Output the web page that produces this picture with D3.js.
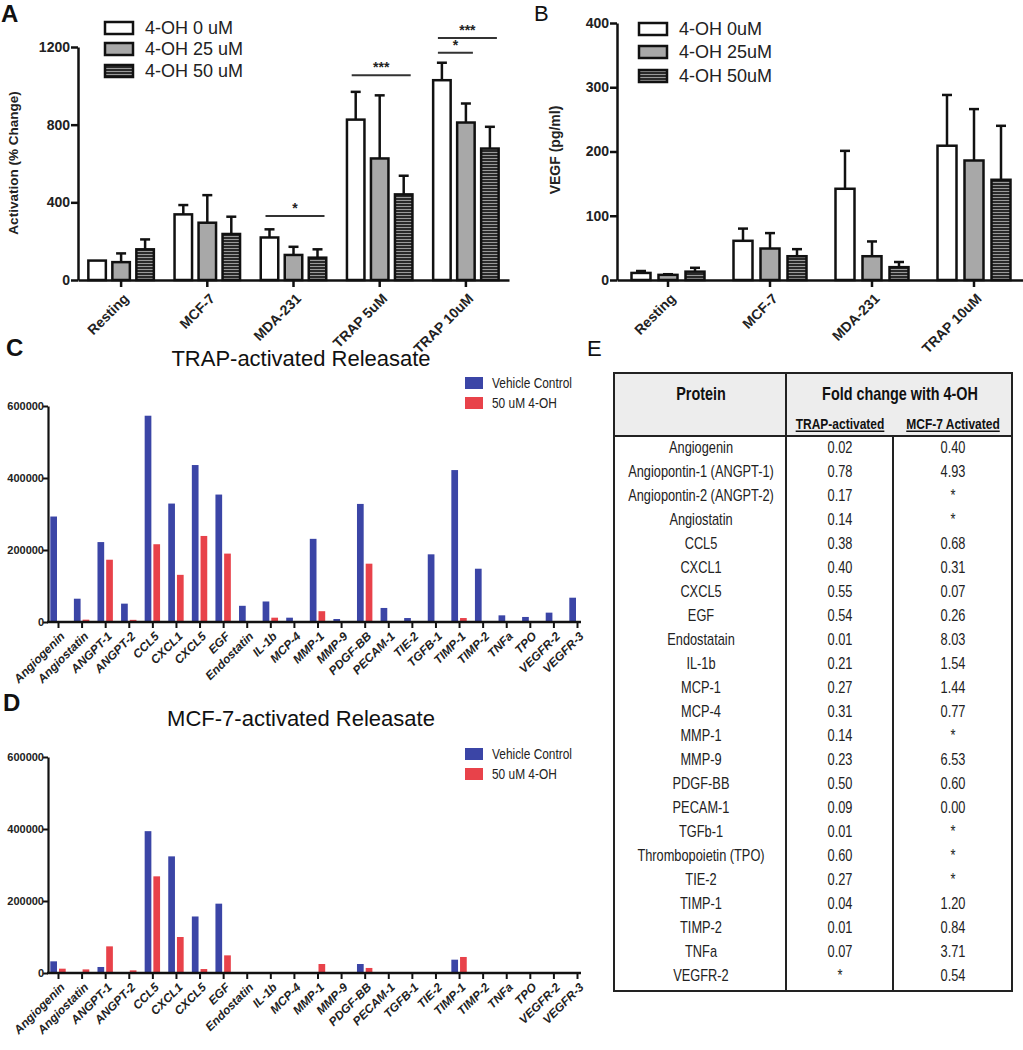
<!DOCTYPE html>
<html><head><meta charset="utf-8">
<script src="https://cdn.jsdelivr.net/npm/d3@7"></script>
<style>
body{margin:0;background:#fff}
svg{display:block}
svg text{font-family:"Liberation Sans",Arial,sans-serif}
</style>
</head><body>
<svg id="chart" width="1023" height="1050"></svg>
<script>
// ---------------- DATA ----------------
// Panel A
const groupsA = ["Resting", "MCF-7", "MDA-231", "TRAP 5uM", "TRAP 10uM"];
const seriesA = ["4-OH 0 uM", "4-OH 25 uM", "4-OH 50 uM"];
const meanA0  = [100, 338, 219, 826, 1029];
const meanA25 = [92, 295, 129, 626, 811];
const meanA50 = [158, 237, 115, 441, 677];
const upperA0  = [100, 386, 261, 969, 1119];
const upperA25 = [137, 437, 171, 951, 909];
const upperA50 = [209, 326, 158, 537, 789];
const sigGroupA = ["MDA-231", "TRAP 5uM", "TRAP 10uM", "TRAP 10uM"];
const sigFromA  = [0, 0, 0, 0];
const sigToA    = [2, 2, 1, 2];
const sigLevelA = [329, 1054, 1171, 1246];
const sigTextA  = ["*", "***", "*", "***"];
const ticksA = [0, 400, 800, 1200];

// Panel B
const groupsB = ["Resting", "MCF-7", "MDA-231", "TRAP 10uM"];
const seriesB = ["4-OH 0uM", "4-OH 25uM", "4-OH 50uM"];
const meanB0  = [11, 61, 142, 209];
const meanB25 = [8, 49, 37, 186];
const meanB50 = [13, 37, 20, 156];
const upperB0  = [14, 80, 201, 288];
const upperB25 = [9, 73, 60, 266];
const upperB50 = [19, 48, 28, 240];
const ticksB = [0, 100, 200, 300, 400];

// Panel C
const catsC = ["Angiogenin","Angiostatin","ANGPT-1","ANGPT-2","CCL5","CXCL1","CXCL5","EGF","Endostatin","IL-1b","MCP-4","MMP-1","MMP-9","PDGF-BB","PECAM-1","TIE-2","TGFB-1","TIMP-1","TIMP-2","TNFa","TPO","VEGFR-2","VEGFR-3"];
const vehicleC = [293000, 64700, 222000, 51000, 573000, 329000, 436000, 354000, 45000, 57000, 12000, 231000, 8300, 328000, 39000, 11000, 188000, 422000, 148000, 18500, 14000, 26000, 67500];
const ohC      = [0, 6500, 173000, 6000, 216000, 131000, 239000, 190000, 0, 12000, 0, 30000, 0, 162000, 0, 0, 0, 11000, 0, 0, 0, 0, 0];

// Panel D
const catsD = ["Angiogenin","Angiostatin","ANGPT-1","ANGPT-2","CCL5","CXCL1","CXCL5","EGF","Endostatin","IL-1b","MCP-4","MMP-1","MMP-9","PDGF-BB","PECAM-1","TGFB-1","TIE-2","TIMP-1","TIMP-2","TNFa","TPO","VEGFR-2","VEGFR-3"];
const vehicleD = [32400, 0, 16700, 0, 394000, 324000, 157000, 192600, 0, 0, 0, 0, 0, 25000, 0, 0, 0, 37000, 0, 0, 0, 0, 0];
const ohD      = [12000, 10000, 74000, 7400, 268500, 100000, 11000, 49000, 2000, 0, 0, 25000, 0, 14000, 0, 0, 0, 44500, 0, 0, 0, 0, 0];
const ticksCD = [0, 200000, 400000, 600000];
const seriesCD = ["Vehicle Control", "50 uM 4-OH"];

// Panel E (table)
const proteinsE = ["Angiogenin","Angiopontin-1 (ANGPT-1)","Angiopontin-2 (ANGPT-2)","Angiostatin","CCL5","CXCL1","CXCL5","EGF","Endostatain","IL-1b","MCP-1","MCP-4","MMP-1","MMP-9","PDGF-BB","PECAM-1","TGFb-1","Thrombopoietin (TPO)","TIE-2","TIMP-1","TIMP-2","TNFa","VEGFR-2"];
const trapFoldE = ["0.02","0.78","0.17","0.14","0.38","0.40","0.55","0.54","0.01","0.21","0.27","0.31","0.14","0.23","0.50","0.09","0.01","0.60","0.27","0.04","0.01","0.07","*"];
const mcfFoldE  = ["0.40","4.93","*","*","0.68","0.31","0.07","0.26","8.03","1.54","1.44","0.77","*","6.53","0.60","0.00","*","*","*","1.20","0.84","3.71","0.54"];

// ---------------- DRAW ----------------
const svg = d3.select("#chart");
const defs = svg.append("defs");
const pat = defs.append("pattern").attr("id","hatch").attr("patternUnits","userSpaceOnUse")
  .attr("width",6).attr("height",3);
pat.append("rect").attr("width",6).attr("height",3).attr("fill","#2a2a2a");
pat.append("rect").attr("y",2).attr("width",6).attr("height",1).attr("fill","#9a9a9a");
const fillsAB = ["#ffffff", "#a8a8a8", "url(#hatch)"];

function groupedPanel(cfg) {
  const g = svg.append("g");
  const x = d3.scaleBand().domain(cfg.groups).range(cfg.xr);
  const s = d3.scaleBand().domain(cfg.series).range([-cfg.half, cfg.half]);
  const y = d3.scaleLinear().domain(cfg.yd).range(cfg.yr);
  const cx = (gi, si) => x(gi) + x.bandwidth()/2 + s(si) + s.bandwidth()/2;
  cfg.series.forEach((ser, k) => {
    const rows = cfg.groups.map((gr, i) => ({g: gr, m: cfg.means[k][i], u: cfg.uppers[k][i]}));
    g.selectAll(null).data(rows).join("line")
      .attr("x1", d => cx(d.g, ser)).attr("x2", d => cx(d.g, ser))
      .attr("y1", d => y(d.m)).attr("y2", d => y(d.u))
      .attr("stroke","#111").attr("stroke-width",2.5);
    g.selectAll(null).data(rows.filter(d => d.u > d.m)).join("line")
      .attr("x1", d => cx(d.g, ser) - 5).attr("x2", d => cx(d.g, ser) + 5)
      .attr("y1", d => y(d.u)).attr("y2", d => y(d.u))
      .attr("stroke","#111").attr("stroke-width",2.5);
    g.selectAll(null).data(rows).join("rect")
      .attr("x", d => cx(d.g, ser) - cfg.bw/2).attr("width", cfg.bw)
      .attr("y", d => y(d.m)).attr("height", d => y(0) - y(d.m))
      .attr("fill", fillsAB[k]).attr("stroke","#111").attr("stroke-width",2.5);
  });
  const ya = g.append("g").attr("transform",`translate(${cfg.xr[0]},0)`)
    .call(d3.axisLeft(y).tickValues(cfg.ticks).tickSize(7).tickSizeOuter(0).tickFormat(d3.format("d")));
  ya.select(".domain").attr("stroke","#111").attr("stroke-width",2.5);
  ya.selectAll(".tick line").attr("stroke","#111").attr("stroke-width",2.5);
  ya.selectAll("text").attr("font-size",14).attr("font-weight","bold").attr("fill","#222").attr("x",-8)
    .attr("font-family","Liberation Sans, Arial, sans-serif");
  const xa = g.append("g").attr("transform",`translate(0,${y(0)})`)
    .call(d3.axisBottom(x).tickSize(7).tickSizeOuter(0));
  xa.select(".domain").attr("stroke","#111").attr("stroke-width",2.5);
  xa.selectAll(".tick line").attr("stroke","#111").attr("stroke-width",2.5);
  xa.selectAll("text").attr("font-size",14).attr("font-weight","bold").attr("fill","#222")
    .attr("font-family","Liberation Sans, Arial, sans-serif")
    .attr("text-anchor","end").attr("x",0).attr("y",0).attr("dy","0.35em")
    .attr("transform","translate(5,16) rotate(-45)");
  g.append("text").attr("transform",`translate(${cfg.ylabX},${cfg.ylabY}) rotate(-90)`)
    .attr("text-anchor","middle").attr("dy","0.35em")
    .attr("font-size",cfg.ylabSize).attr("font-weight","bold").attr("fill","#222").text(cfg.ylab);
  const lg = g.append("g");
  cfg.series.forEach((ser, k) => {
    const yy = cfg.legY[k];
    lg.append("rect").attr("x",cfg.legX).attr("y",yy-6).attr("width",28).attr("height",12)
      .attr("fill",fillsAB[k]).attr("stroke","#111").attr("stroke-width",2.5);
    lg.append("text").attr("x",cfg.legX+40).attr("y",yy).attr("dy","0.36em")
      .attr("font-size",18).attr("fill","#222").text(ser);
  });
  return {g, x, s, y, cx};
}

const A = groupedPanel({
  groups: groupsA, series: seriesA, xr: [78, 509], half: 36, bw: 17.5,
  yd: [0, 1200], yr: [280, 47], ticks: ticksA,
  means: [meanA0, meanA25, meanA50], uppers: [upperA0, upperA25, upperA50],
  ylab: "Activation (% Change)", ylabX: 13, ylabY: 163, ylabSize: 13.5,
  legX: 105, legY: [28, 49, 71]
});
sigGroupA.forEach((gr, i) => {
  const x1 = A.cx(gr, seriesA[sigFromA[i]]) - 4;
  const x2 = A.cx(gr, seriesA[sigToA[i]]) + 7;
  const yy = A.y(sigLevelA[i]);
  A.g.append("line").attr("x1",x1).attr("x2",x2).attr("y1",yy).attr("y2",yy)
    .attr("stroke","#333").attr("stroke-width",2);
  A.g.append("text").attr("x",(x1+x2)/2).attr("y",yy-3).attr("text-anchor","middle")
    .attr("font-size",14).attr("font-weight","bold").attr("fill","#222").text(sigTextA[i]);
});

groupedPanel({
  groups: groupsB, series: seriesB, xr: [617, 1025], half: 40.5, bw: 19,
  yd: [0, 400], yr: [280, 23], ticks: ticksB,
  means: [meanB0, meanB25, meanB50], uppers: [upperB0, upperB25, upperB50],
  ylab: "VEGF (pg/ml)", ylabX: 555, ylabY: 150, ylabSize: 14,
  legX: 639, legY: [29, 52, 76]
});

// panel letters
const letters = [["A",1,22,"bold",24],["B",534,21,"normal",22],["C",6,356,"bold",24],["D",3,711,"bold",24],["E",587,356,"normal",22]];
svg.selectAll(null).data(letters).join("text")
  .attr("x",d=>d[1]).attr("y",d=>d[2]).attr("font-weight",d=>d[3]).attr("font-size",d=>d[4])
  .attr("fill","#111").text(d=>d[0]);

// ---------- Panels C / D
const blue = "#3b45a6", red = "#e8424a";
function releasate(cfg) {
  const g = svg.append("g");
  const x = d3.scalePoint().domain(cfg.cats).range([58, 577]);
  const y = d3.scaleLinear().domain([0, 600000]).range(cfg.yr);
  const rows = cfg.cats.map((c, i) => ({c, v: cfg.veh[i], o: cfg.oh[i]}));
  g.selectAll(null).data(rows).join("rect")
    .attr("x", d => x(d.c) - 7.7).attr("width", 6.7)
    .attr("y", d => y(d.v)).attr("height", d => y(0) - y(d.v)).attr("fill", blue);
  g.selectAll(null).data(rows).join("rect")
    .attr("x", d => x(d.c) + 1).attr("width", 6.7)
    .attr("y", d => y(d.o)).attr("height", d => y(0) - y(d.o)).attr("fill", red);
  const ya = g.append("g").attr("transform","translate(48,0)")
    .call(d3.axisLeft(y).tickValues(ticksCD).tickSize(5).tickSizeOuter(0).tickFormat(d3.format("d")));
  ya.select(".domain").attr("stroke","#111").attr("stroke-width",2.2);
  ya.selectAll(".tick line").attr("stroke","#111").attr("stroke-width",2);
  ya.selectAll("text").attr("font-size",11).attr("font-weight","bold").attr("fill","#222").attr("x",-4)
    .attr("font-family","Liberation Sans, Arial, sans-serif");
  const xa = g.append("g").attr("transform",`translate(0,${y(0)})`)
    .call(d3.axisBottom(x).tickSize(6).tickSizeOuter(0));
  xa.select(".domain").remove();
  xa.selectAll(".tick line").attr("stroke","#111").attr("stroke-width",2);
  xa.append("line").attr("x1",47).attr("x2",581).attr("stroke","#111").attr("stroke-width",2.4);
  xa.selectAll("text").attr("font-size",12).attr("font-weight","bold").attr("font-style","italic")
    .attr("fill","#222").attr("font-family","Liberation Sans, Arial, sans-serif")
    .attr("text-anchor","end").attr("x",0).attr("y",0).attr("dy","0.35em")
    .attr("transform","translate(4,12) rotate(-45)");
  g.append("text").attr("x",301).attr("y",cfg.titleY).attr("text-anchor","middle")
    .attr("font-size",22).attr("fill","#111").text(cfg.title);
  seriesCD.forEach((ser, k) => {
    const yy = cfg.legY + k*20;
    g.append("rect").attr("x",465).attr("y",yy-6).attr("width",18).attr("height",12).attr("fill",[blue,red][k]);
    g.append("text").attr("transform",`translate(492,${yy}) scale(0.85,1)`).attr("dy","0.36em")
      .attr("font-size",14).attr("fill","#222").text(ser);
  });
}
releasate({cats: catsC, veh: vehicleC, oh: ohC, yr: [622, 406], title: "TRAP-activated Releasate", titleY: 366, legY: 383});
releasate({cats: catsD, veh: vehicleD, oh: ohD, yr: [973, 757], title: "MCF-7-activated Releasate", titleY: 726, legY: 754});

// ---------- Panel E table
const T = svg.append("g");
const tL = 614, tR = 1012, tT = 373, tH = 436, tB = 991, c1 = 786, c2 = 893;
const SX = 0.8;
function ttext(x, y, size, weight, str, deco) {
  return T.append("text").attr("transform",`translate(${x},${y}) scale(${SX},1)`)
    .attr("dy","0.36em").attr("text-anchor","middle").attr("font-size",size)
    .attr("font-weight",weight).attr("fill","#111").attr("text-decoration",deco||null).text(str);
}
T.append("rect").attr("x",tL).attr("y",tT).attr("width",tR-tL).attr("height",tH-tT).attr("fill","#ededed");
T.append("rect").attr("x",tL).attr("y",tT).attr("width",tR-tL).attr("height",tB-tT)
  .attr("fill","none").attr("stroke","#222").attr("stroke-width",2);
T.append("line").attr("x1",tL).attr("x2",tR).attr("y1",tH).attr("y2",tH).attr("stroke","#222").attr("stroke-width",2.2);
T.append("line").attr("x1",c1).attr("x2",c1).attr("y1",tT).attr("y2",tB).attr("stroke","#222").attr("stroke-width",2);
T.append("line").attr("x1",c2).attr("x2",c2).attr("y1",tH).attr("y2",tB).attr("stroke","#222").attr("stroke-width",2);
ttext(701, 394, 18, "bold", "Protein");
ttext(900, 394, 18, "bold", "Fold change with 4-OH");
ttext(840, 424, 15, "bold", "TRAP-activated", "underline");
ttext(953, 424, 15, "bold", "MCF-7 Activated", "underline");
const rowY = d3.scalePoint().domain(proteinsE).range([447, 975]);
const tableRows = proteinsE.map((p, i) => ({p, a: trapFoldE[i], b: mcfFoldE[i]}));
[["p",701],["a",840],["b",953]].forEach(([key, xx]) => {
  T.selectAll(null).data(tableRows).join("text")
    .attr("transform", d => `translate(${xx},${rowY(d.p)}) scale(${SX},1)`)
    .attr("dy","0.36em").attr("text-anchor","middle")
    .attr("font-size",16).attr("fill","#222").text(d => d[key]);
});
</script>
</body></html>
